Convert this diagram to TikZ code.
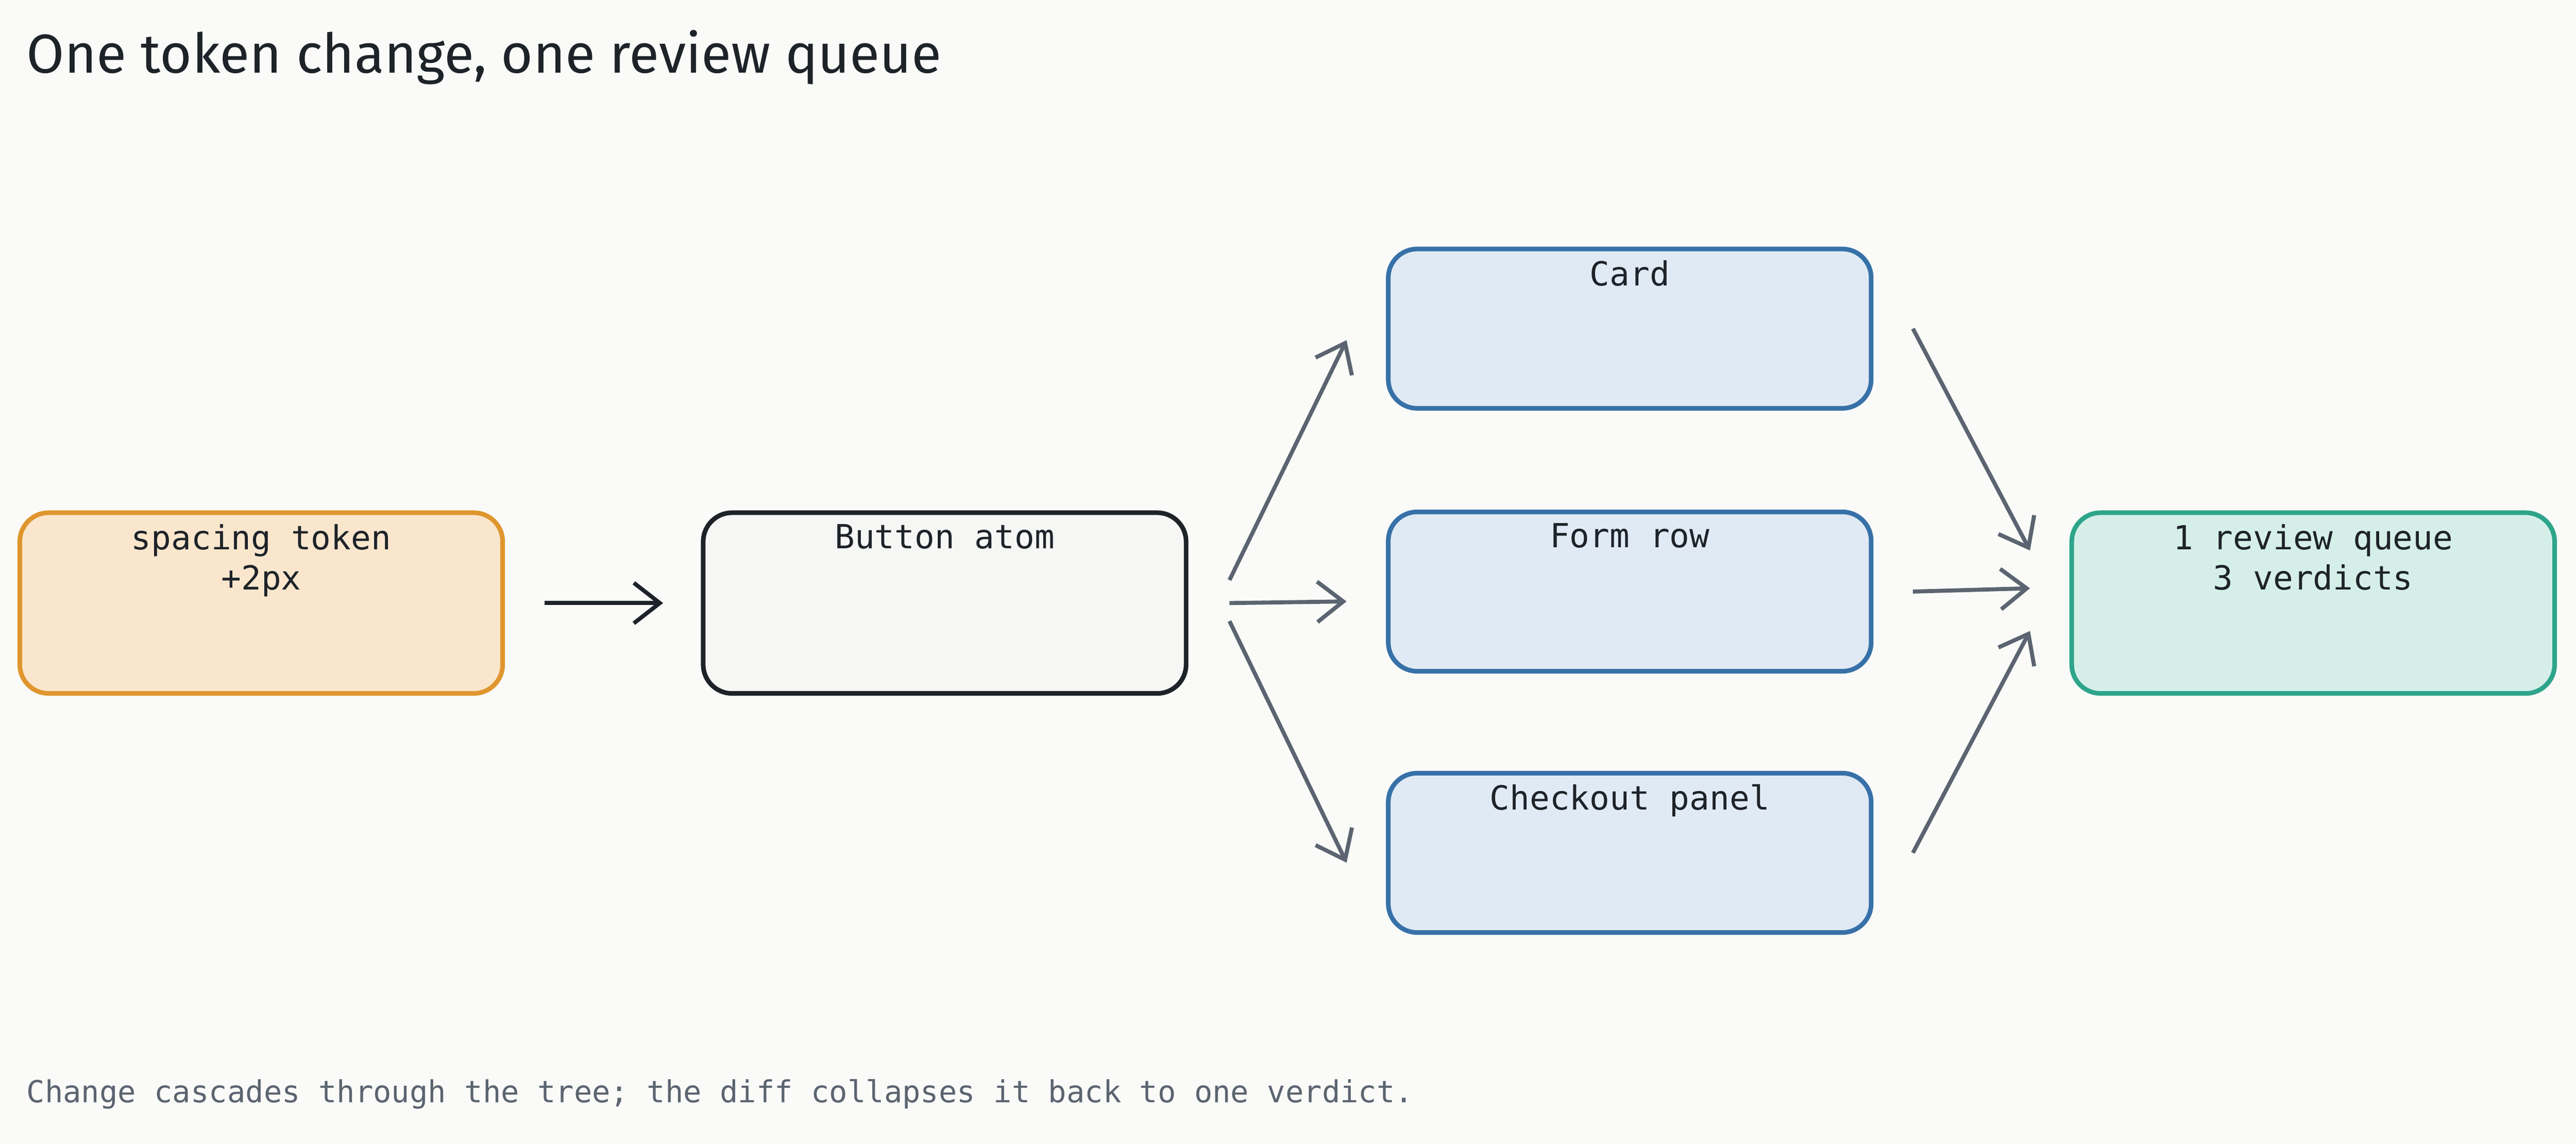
\documentclass[tikz,border=0pt]{standalone}
\usepackage{fontspec}
\setmainfont{DejaVu Sans Mono}
\newfontfamily\titlefont{Fira Sans}
\usetikzlibrary{arrows.meta, positioning}
\definecolor{bgc}{HTML}{FAFAF8}
\definecolor{ink}{HTML}{1E2329}
\definecolor{arr}{HTML}{5B6470}
\definecolor{orgD}{HTML}{E0962E}
\definecolor{orgL}{HTML}{F9E6CC}
\definecolor{gryL}{HTML}{F6F6F5}
\definecolor{bluD}{HTML}{3771A8}
\definecolor{bluL}{HTML}{E0EAF4}
\definecolor{grnD}{HTML}{2EA58A}
\definecolor{grnL}{HTML}{D5EFE8}
\tikzset{
    box/.style={draw,line width=1.6pt,rounded corners=10pt,minimum width=5.88cm,inner sep=0pt},
    tall/.style={box,minimum height=2.2cm},
    short/.style={box,minimum height=1.94cm},
    lbl/.style={anchor=north,font=\fontsize{11.5}{14}\selectfont,text=ink,align=center,inner sep=0pt,yshift=-0.16cm},
    flow/.style={draw=arr,line width=1.4pt,-{Straight Barb[length=9pt,width=14pt,line width=1.4pt]}},
}
\begin{document}
\begin{tikzpicture}[x=0.02cm,y=-0.02cm]
\fill[bgc] (0,0) rectangle (1568,696);
\node[anchor=west,font=\titlefont\fontsize{19}{22}\selectfont,text=ink] (title) at (10,35) {One token change, one review queue};
\node[tall,draw=orgD,fill=orgL,label={[lbl]north:spacing token\\+2px}] (tok) at (159,367) {};
\node[tall,draw=ink,fill=gryL,label={[lbl]north:Button atom}] (btn) at (575,367) {};
\node[short,draw=bluD,fill=bluL,label={[lbl]north:Card}] (card) at (992,200) {};
\node[short,draw=bluD,fill=bluL,label={[lbl]north:Form row}] (form) at (992,360) {};
\node[short,draw=bluD,fill=bluL,label={[lbl]north:Checkout panel}] (chk) at (992,519) {};
\node[tall,draw=grnD,fill=grnL,label={[lbl]north:1 review queue\\3 verdicts}] (rq) at (1408,367) {};
\node[anchor=west,font=\fontsize{10.5}{12}\selectfont,text=arr] (foot) at (10,666) {Change cascades through the tree; the diff collapses it back to one verdict.};
% connectors
\draw[flow,draw=ink] ([xshift=0.48cm]tok.east) -- ([xshift=-0.46cm]btn.east -| btn.west);
\draw[flow] ([xshift=0.5cm,yshift=0.28cm]btn.east) -- ([xshift=-0.48cm,yshift=-0.14cm]card.west);
\draw[flow] ([xshift=0.5cm]btn.east) -- ([xshift=-0.48cm,yshift=-0.12cm]form.west);
\draw[flow] ([xshift=0.5cm,yshift=-0.22cm]btn.east) -- ([xshift=-0.48cm,yshift=-0.12cm]chk.west);
\draw[flow] ([xshift=0.48cm]card.east) -- ([xshift=-0.48cm,yshift=0.64cm]rq.west);
\draw[flow] ([xshift=0.48cm]form.east) -- ([xshift=-0.48cm,yshift=0.18cm]rq.west);
\draw[flow] ([xshift=0.48cm]chk.east) -- ([xshift=-0.48cm,yshift=-0.34cm]rq.west);
\end{tikzpicture}
\end{document}
